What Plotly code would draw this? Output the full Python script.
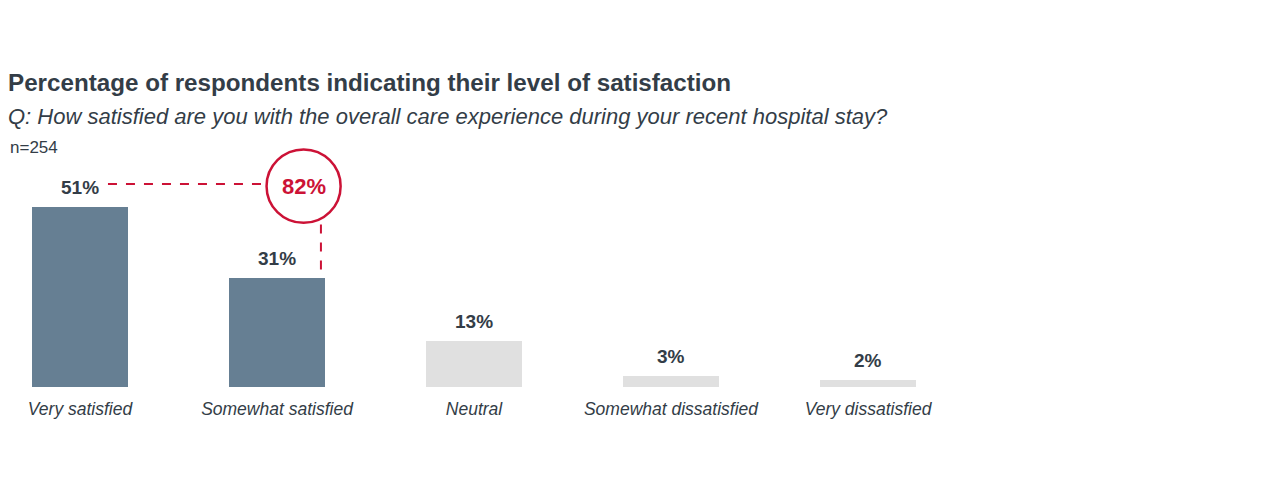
import plotly.graph_objects as go

# data
categories = ["Very satisfied", "Somewhat satisfied", "Neutral", "Somewhat dissatisfied", "Very dissatisfied"]
values = [51, 31, 13, 3, 2]
highlight = [True, True, False, False, False]
n_resp = 254

title = "Percentage of respondents indicating their level of satisfaction"
subtitle = "Q: How satisfied are you with the overall care experience during your recent hospital stay?"

dark = "#667f93"
light = "#e0e0e0"
red = "#cc1236"
txt = "#333d47"
font = "Liberation Sans, Arial, sans-serif"

# plot area (px)
M_L, M_T, M_B = 12, 122, 116
PLOT_H = 495 - M_T - M_B
PLOT_W = 1280 - M_L
PX_PER_PCT = 3.53

xs = list(range(len(categories)))
top2 = values[0] + values[1]

fig = go.Figure()

fig.add_trace(go.Bar(
    x=xs, y=values, width=0.49,
    marker=dict(color=[dark if h else light for h in highlight], line=dict(width=0)),
    hoverinfo="skip",
))

# value labels above the bars
for x, v in zip(xs, values):
    fig.add_annotation(x=x, y=v, text="<b>%d%%</b>" % v, showarrow=False,
                       yanchor="bottom", yshift=7,
                       font=dict(family=font, size=19, color=txt))

# callout: top-2 box total
y_line = values[0] + 6.5          # level of the 51% label
cx, cy, r_x, r_y = 1.135, y_line - 0.6, 0.188, 10.4
fig.add_shape(type="line", x0=0.142, x1=cx - r_x, y0=y_line, y1=y_line,
              line=dict(color=red, width=2, dash="dash"))
fig.add_shape(type="line", x0=1.223, x1=1.223, y0=cy - r_y - 0.5, y1=values[1] + 1.8,
              line=dict(color=red, width=2, dash="dash"))
fig.add_shape(type="circle", x0=cx - r_x, x1=cx + r_x, y0=cy - r_y, y1=cy + r_y,
              line=dict(color=red, width=2.5), fillcolor="white")
fig.add_annotation(x=cx, y=cy, text="<b>%d%%</b>" % top2, showarrow=False,
                   font=dict(family=font, size=22, color=red))


def py(px):
    # page pixel -> paper y (page has 8px body offset)
    return 1 + (M_T - (px - 8)) / PLOT_H


def pxx(px):
    return ((px - 8) - M_L) / PLOT_W


fig.add_annotation(xref="paper", yref="paper", x=pxx(6), y=py(82),
                   text="<b>%s</b>" % title,
                   showarrow=False, xanchor="left", yanchor="middle",
                   font=dict(family=font, size=24.2, color=txt))
fig.add_annotation(xref="paper", yref="paper", x=pxx(6), y=py(116),
                   text="<i>%s</i>" % subtitle,
                   showarrow=False, xanchor="left", yanchor="middle",
                   font=dict(family=font, size=22, color=txt))
fig.add_annotation(xref="paper", yref="paper", x=pxx(8), y=py(147),
                   text="n=%d" % n_resp,
                   showarrow=False, xanchor="left", yanchor="middle",
                   font=dict(family=font, size=17, color=txt))

r0 = -60 / 197
fig.update_layout(
    width=1280, height=495,
    margin=dict(l=M_L, r=0, t=M_T, b=M_B),
    paper_bgcolor="white", plot_bgcolor="white",
    showlegend=False,
    bargap=0,
    xaxis=dict(range=[r0, r0 + PLOT_W / 197], tickvals=xs, ticktext=categories,
               showgrid=False, zeroline=False, showline=False, ticks="",
               ticklabelstandoff=9,
               tickfont=dict(family=font, size=17.5, color=txt, style="italic")),
    yaxis=dict(range=[0, PLOT_H / PX_PER_PCT], visible=False, fixedrange=True),
)

fig.write_html("out.html")
